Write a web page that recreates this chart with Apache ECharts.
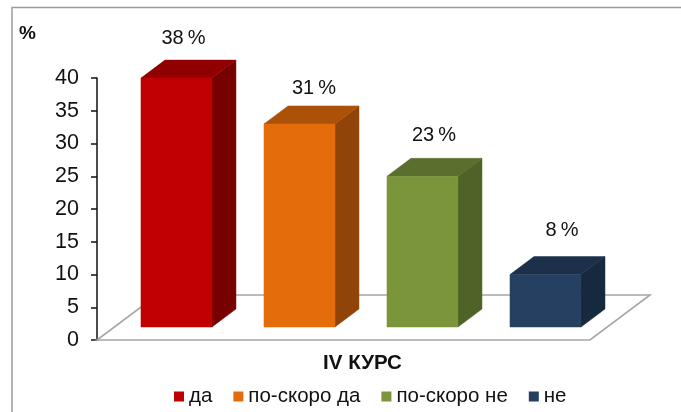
<!DOCTYPE html>
<html><head><meta charset="utf-8">
<style>html,body{margin:0;padding:0;background:#fff}#c{width:681px;height:412px}</style>
<script src="https://cdn.jsdelivr.net/npm/echarts@6/dist/echarts.min.js"></script>
</head><body><div id="c"></div>
<script>
const categories = ['IV КУРС'];
const seriesNames = ['да', 'по-скоро да', 'по-скоро не', 'не'];
const seriesValues = [38, 31, 23, 8];
const yTicks = {min: 0, max: 40, interval: 5};
const unitLabel = '%';

const FONT = '"Liberation Sans", Arial, sans-serif';
const faces = [
  {front: '#C00000', top: '#900000', side: '#790000', edge: '#e6c0c0'},
  {front: '#E46C0A', top: '#AC5208', side: '#904407', edge: '#f3cfae'},
  {front: '#7A953A', top: '#5A6F2D', side: '#4F6228', edge: '#c5d3a2'},
  {front: '#254061', top: '#1D3049', side: '#17293F', edge: '#3f5a80'}
];
const depth = {x: 24, y: 18};
const floorDepth = {x: 60, y: 45};
const barBase = 13;
const slotStart = 0.0892, slotStep = 0.2495, slotWidth = 0.144;
const labelShift = [[7, -22], [14.5, -17], [11.5, -23], [16.5, -26]];

function barItem(index) {
  return function (params, api) {
    const bandW = api.size([1, 0])[0];
    const cx = api.coord([0, 0])[0];
    const x0 = cx - bandW / 2 + bandW * (slotStart + slotStep * index);
    const w = bandW * slotWidth;
    const yBase = api.coord([0, 0])[1];
    const h = yBase - api.coord([0, api.value(1)])[1];
    const bottom = yBase - barBase;
    const top = bottom - h;
    const c = faces[index];
    const dx = depth.x, dy = depth.y;
    return {type: 'group', children: [
      {type: 'polygon', shape: {points: [[x0 + w, top], [x0 + w + dx, top - dy], [x0 + w + dx, bottom - dy], [x0 + w, bottom]]}, style: {fill: c.side, stroke: c.side, lineWidth: 0.5}},
      {type: 'polygon', shape: {points: [[x0, top], [x0 + dx, top - dy], [x0 + w + dx, top - dy], [x0 + w, top]]}, style: {fill: c.top, stroke: c.top, lineWidth: 0.5}},
      {type: 'rect', shape: {x: x0, y: top, width: w, height: bottom - top}, style: {fill: c.front, stroke: c.front, lineWidth: 0.5}},
      {type: 'text', style: {x: x0 + w / 2 + labelShift[index][0], y: top - dy + labelShift[index][1], text: api.value(1) + '\u2009%', font: '20px ' + FONT, fill: '#111', align: 'center', verticalAlign: 'middle'}}
    ]};
  };
}

function floorItem(params, api) {
  const s = params.coordSys;
  const x0 = s.x, x1 = s.x + s.width, y = s.y + s.height;
  return {type: 'polygon', shape: {points: [[x0, y], [x1, y], [x1 + floorDepth.x, y - floorDepth.y], [x0 + floorDepth.x, y - floorDepth.y]]},
    style: {fill: '#fff', stroke: '#a6a6a6', lineWidth: 1.6}};
}

const series = [{type: 'custom', name: 'floor', z: 1, silent: true, renderItem: floorItem, data: [[0, 0]], clip: false}];
seriesNames.forEach((n, i) => series.push({
  type: 'custom', name: n, z: 2 + i, renderItem: barItem(i), clip: false,
  itemStyle: {color: faces[i].front},
  encode: {x: 0, y: 1},
  data: [[0, seriesValues[i]]]
}));

const chart = echarts.init(document.getElementById('c'), null, {renderer: 'canvas'});
chart.setOption({
  animation: false,
  backgroundColor: '#fff',
  title: {text: unitLabel, left: 14, top: 19, textStyle: {fontFamily: FONT, fontSize: 19, fontWeight: 'bold', color: '#111'}},
  grid: {left: 97, right: 91, top: 78, bottom: 72, containLabel: false},
  legend: {data: seriesNames, left: 174, top: 386, padding: 0, icon: 'rect', itemWidth: 10, itemHeight: 10, itemGap: 21,
    textStyle: {fontFamily: FONT, fontSize: 20.5, color: '#111'}},
  xAxis: {type: 'category', data: categories, axisLine: {show: false}, axisTick: {show: false},
    axisLabel: {fontFamily: FONT, fontSize: 20.5, fontWeight: 'bold', color: '#111', margin: 13, padding: [0, 0, 0, 38]}},
  yAxis: {type: 'value', min: yTicks.min, max: yTicks.max, interval: yTicks.interval, splitLine: {show: false},
    axisLine: {show: true, lineStyle: {color: '#111', width: 1.5}},
    axisTick: {show: true, length: 6, lineStyle: {color: '#111', width: 1.5}},
    axisLabel: {fontFamily: FONT, fontSize: 21.5, color: '#111', margin: 18}},
  graphic: [{type: 'polyline', silent: true, shape: {points: [[12, 412], [12, 7.5], [681, 7.5]]}, style: {stroke: '#9a9a9a', lineWidth: 1.5, fill: null}}],
  series
});
</script></body></html>
